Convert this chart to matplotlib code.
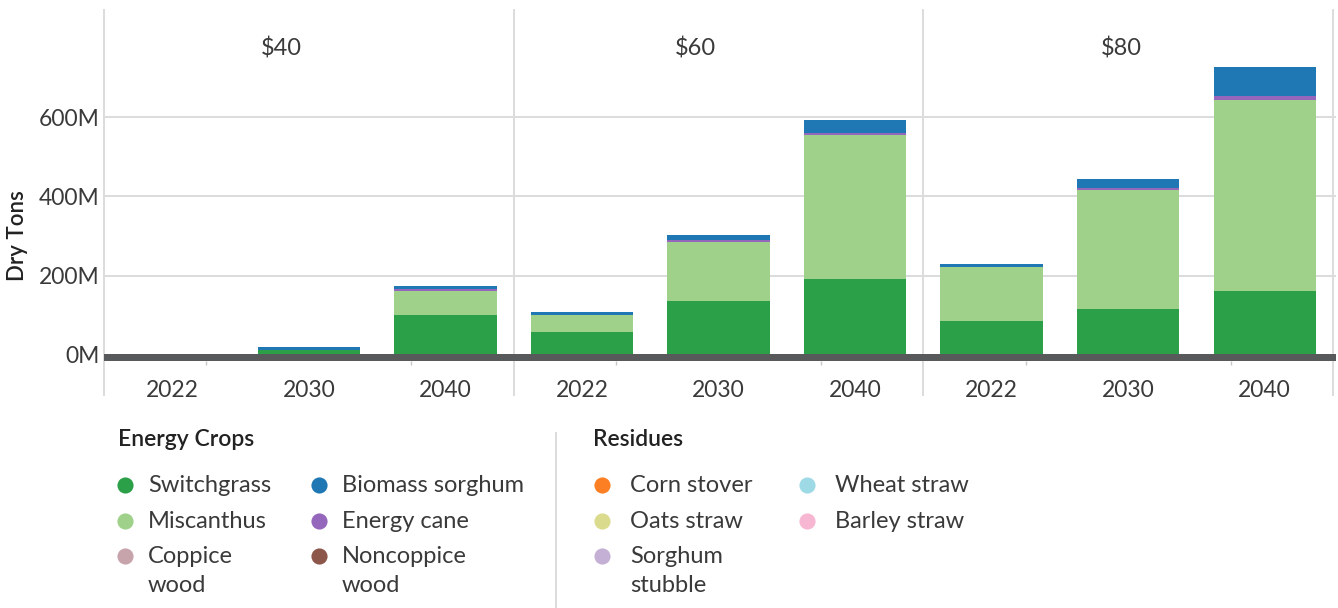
import numpy as np
import matplotlib.pyplot as plt

plt.rcParams['font.family'] = ['Lato', 'DejaVu Sans']

W, H = 1338, 608

prices = ['$40', '$60', '$80']
years = ['2022', '2030', '2040']

# million dry tons, in order $40 (2022, 2030, 2040), $60 (...), $80 (...)
switchgrass = [0, 12, 100, 57, 135, 191, 85, 115, 161]
miscanthus = [0, 0, 61, 44, 149, 365, 137, 301, 483]
coppice_wood = [0, 0, 0, 0, 0, 0, 0, 0, 0]
noncoppice_wood = [0, 0, 0, 0, 0, 0, 0, 0, 0]
energy_cane = [0, 0, 4, 0, 5, 5, 0, 5, 10]
biomass_sorghum = [0, 7, 8, 7, 13, 33, 8, 23, 73]
corn_stover = [0, 0, 0, 0, 0, 0, 0, 0, 0]
oats_straw = [0, 0, 0, 0, 0, 0, 0, 0, 0]
sorghum_stubble = [0, 0, 0, 0, 0, 0, 0, 0, 0]
wheat_straw = [0, 0, 0, 0, 0, 0, 0, 0, 0]
barley_straw = [0, 0, 0, 0, 0, 0, 0, 0, 0]

series = [
    ('Switchgrass', switchgrass, '#2ca048'),
    ('Miscanthus', miscanthus, '#9fd18a'),
    ('Coppice\nwood', coppice_wood, '#c7a3ac'),
    ('Noncoppice\nwood', noncoppice_wood, '#8c564b'),
    ('Energy cane', energy_cane, '#9467bd'),
    ('Biomass sorghum', biomass_sorghum, '#1f77b4'),
    ('Corn stover', corn_stover, '#fd7f23'),
    ('Oats straw', oats_straw, '#dbdb8d'),
    ('Sorghum\nstubble', sorghum_stubble, '#c5b0d5'),
    ('Wheat straw', wheat_straw, '#9edae5'),
    ('Barley straw', barley_straw, '#f7b6d2'),
]

txt = '#3a3a3a'
grid = '#dcdcdc'

fig = plt.figure(figsize=(W / 100, H / 100), dpi=100)

# main axes in pixel placement
left, right, top, bottom = 104, 1336, 10, 361
ax = fig.add_axes([left / W, 1 - bottom / H, (right - left) / W, (bottom - top) / H])

slot = (1333 - 104) / 9
zero_px = 354.5
ppm = 0.395  # pixels per million
ax.set_xlim(0, (right - left) / slot)
ax.set_ylim(-(bottom - zero_px) / ppm, (zero_px - top) / ppm)

x = np.arange(9) + 0.5
base = np.zeros(9)
for name, vals, col in series:
    v = np.array(vals, dtype=float)
    ax.bar(x, v, width=0.75, bottom=base, color=col, zorder=2, linewidth=0)
    base += v

# baseline
ax.axhspan(ax.get_ylim()[0], 0.6, color='#58595b', zorder=3, lw=0)

for yv in [200, 400, 600]:
    ax.axhline(yv, color=grid, lw=1.4, zorder=1)

ext = -(395 - bottom) / (bottom - top)
for xv in [0, 3, 6, 9]:
    ax.axvline(xv, ymin=ext, ymax=1, color=grid, lw=1.4, zorder=1, clip_on=False)

for sp in ax.spines.values():
    sp.set_visible(False)

ax.set_yticks([0, 200, 400, 600])
ax.set_yticklabels(['0M', '200M', '400M', '600M'])
ax.tick_params(axis='y', length=0, pad=3, labelsize=16.5, labelcolor=txt)
ax.set_xticks(x)
ax.set_xticklabels(years * 3)
ax.tick_params(axis='x', which='major', length=0, pad=14, labelsize=16.5, labelcolor=txt)
minor = [p * 3 + q for p in range(3) for q in (0.75, 1.5, 2.25)]
ax.set_xticks(minor, minor=True)
ax.tick_params(axis='x', which='minor', length=3, width=1, color='#c8c8c8')

title_x = [1.30, 4.33, 7.45]
for tx, p in zip(title_x, prices):
    ax.text(tx, (zero_px - 48) / ppm, p, ha='center', va='center', fontsize=17, color=txt)

fig.text(18 / W, 1 - 236 / H, 'Dry Tons', rotation=90, ha='center', va='center',
         fontsize=16, fontweight='semibold', color='#222222')

# legend overlay in pixel coordinates
lg = fig.add_axes([0, 0, 1, 1])
lg.set_xlim(0, W)
lg.set_ylim(H, 0)
lg.axis('off')

lg.text(118, 439, 'Energy Crops', fontsize=16.5, fontweight='semibold', color='#222222', va='center')
lg.text(593, 439, 'Residues', fontsize=16.5, fontweight='semibold', color='#222222', va='center')
lg.plot([556, 556], [433, 608], color=grid, lw=1.4)

dot_x = [125, 125, 125, 319, 319, 319, 602, 602, 602, 807, 807]
txt_gap = [23, 23, 23, 23, 23, 23, 28, 28, 28, 28, 28]
row_y = [485, 521, 556, 485, 521, 556, 485, 521, 556, 485, 521]
order = [0, 1, 2, 5, 4, 3, 6, 7, 8, 9, 10]
for i, k in enumerate(order):
    name, vals, col = series[k]
    lg.scatter(dot_x[i], row_y[i], s=135, color=col, lw=0)
    lg.text(dot_x[i] + txt_gap[i], row_y[i] - 10, name, fontsize=17, color=txt, va='top',
            linespacing=1.45)

fig.savefig('out.png', dpi=100)
